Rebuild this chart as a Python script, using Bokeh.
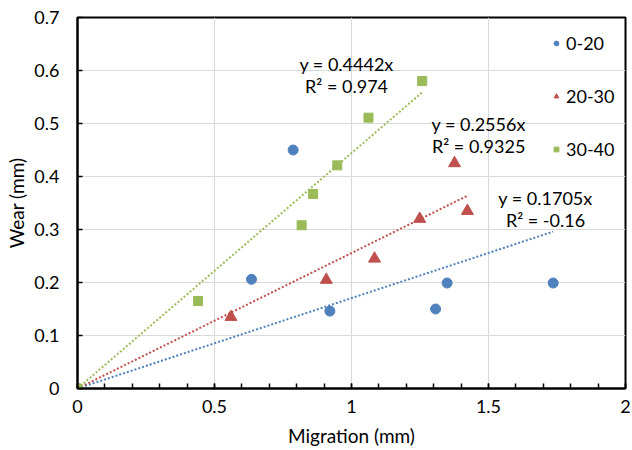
from bokeh.plotting import figure
from bokeh.models import Label, Legend, LegendItem, FixedTicker, CustomJSTickFormatter
from bokeh.embed import file_html
from bokeh.resources import INLINE

# ---- data ----
series_names = ["0-20", "20-30", "30-40"]
x_0_20 = [0, 0.787, 0.635, 0.921, 1.307, 1.349, 1.736]
y_0_20 = [0, 0.450, 0.206, 0.146, 0.150, 0.199, 0.199]
x_20_30 = [0, 0.560, 0.908, 1.084, 1.249, 1.376, 1.423]
y_20_30 = [0, 0.135, 0.205, 0.245, 0.320, 0.425, 0.335]
x_30_40 = [0, 0.440, 0.818, 0.860, 0.948, 1.062, 1.258]
y_30_40 = [0, 0.165, 0.308, 0.367, 0.421, 0.511, 0.580]
slopes = [0.1705, 0.2556, 0.4442]
r2_labels = ["R² = -0.16", "R² = 0.9325", "R² = 0.974"]
eq_labels = ["y = 0.1705x", "y = 0.2556x", "y = 0.4442x"]
x_ticks = [0, 0.5, 1, 1.5, 2]
y_ticks = [0, 0.1, 0.2, 0.3, 0.4, 0.5, 0.6, 0.7]
x_minor_ticks = [i / 10 for i in range(21)]

# label anchor positions (data units)
eq_pos_x = [1.708, 1.464, 0.982]
eq_pos_y = [0.360, 0.500, 0.613]
r2_pos_y = [0.318, 0.457, 0.570]

colors = ["#4F81BD", "#C0504D", "#9BBB59"]
markers = ["circle", "triangle", "square"]
marker_sizes = [10, 12, 9]
FONT = "Lato"

p = figure(frame_width=548, frame_height=371, x_range=(0, 2), y_range=(0, 0.7),
           output_backend="svg", toolbar_location=None,
           min_border_left=77, min_border_right=7, min_border_top=17,
           min_border_bottom=62)

p.outline_line_color = "black"
p.outline_line_width = 2
p.background_fill_color = "white"
p.border_fill_color = "white"

# axes
p.xaxis.ticker = FixedTicker(ticks=x_ticks, minor_ticks=x_minor_ticks)
p.yaxis.ticker = FixedTicker(ticks=y_ticks)
fmt = "return String(Math.round(tick*10)/10);"
p.xaxis.formatter = CustomJSTickFormatter(code=fmt)
p.yaxis.formatter = CustomJSTickFormatter(code=fmt)
for ax in (p.xaxis, p.yaxis):
    ax.axis_line_color = "black"
    ax.axis_line_width = 2
    ax.major_tick_line_color = "black"
    ax.major_tick_line_width = 1.5
    ax.major_tick_in = 5
    ax.major_tick_out = 0
    ax.minor_tick_line_color = "black"
    ax.minor_tick_line_width = 1.5
    ax.minor_tick_in = 5
    ax.minor_tick_out = 0
    ax.major_label_text_font = FONT
    ax.major_label_text_font_size = "18px"
    ax.major_label_text_color = "black"
    ax.axis_label_text_font = FONT
    ax.axis_label_text_font_size = "19px"
    ax.axis_label_text_font_style = "normal"
    ax.axis_label_text_color = "black"

p.xaxis.axis_label = "Migration (mm)"
p.yaxis.axis_label = "Wear (mm)"
p.xaxis.major_label_standoff = 11
p.xaxis.axis_label_standoff = 8
p.yaxis.major_label_standoff = 18
p.yaxis.axis_label_standoff = 3

p.xgrid.grid_line_color = "#D9D9D9"
p.ygrid.grid_line_color = "#D9D9D9"
p.xgrid.grid_line_width = 1
p.ygrid.grid_line_width = 1

xs_all = [x_0_20, x_20_30, x_30_40]
ys_all = [y_0_20, y_20_30, y_30_40]

# trend lines
for xs, slope, c in zip(xs_all, slopes, colors):
    xe = max(xs)
    p.line([0, xe], [0, slope * xe], line_color=c, line_width=2, line_dash="2 2")

items = []
for xs, ys, c, m, s, name in zip(xs_all, ys_all, colors, markers, marker_sizes, series_names):
    r = p.scatter(xs, ys, marker=m, size=s, fill_color=c, line_color=c)
    items.append(LegendItem(label=name, renderers=[r]))

legend = Legend(items=items, location=(473, 228),
                border_line_alpha=0, background_fill_alpha=0,
                margin=0, padding=0, spacing=31,
                label_height=20, glyph_height=20, glyph_width=12,
                label_standoff=4,
                label_text_font=FONT, label_text_font_size="18px",
                label_text_color="black")
p.add_layout(legend)

for ex, ey, ry, eq, r2 in zip(eq_pos_x, eq_pos_y, r2_pos_y, eq_labels, r2_labels):
    for yy, t in ((ey, eq), (ry, r2)):
        p.add_layout(Label(x=ex, y=yy, text=t, text_align="center",
                           text_baseline="middle", text_font=FONT,
                           text_font_size="18px", text_color="black"))

open("out.html", "w").write(file_html(p, INLINE))
